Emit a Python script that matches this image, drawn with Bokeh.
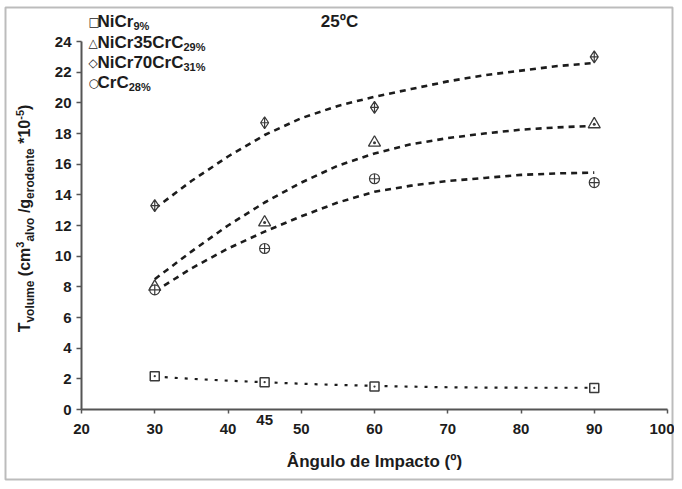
import math
from bokeh.plotting import figure
from bokeh.models import Range1d, FixedTicker, Label, BoxAnnotation
from bokeh.embed import file_html
from bokeh.resources import INLINE

# ---------------- data ----------------
angles = [30, 45, 60, 90]
nicr9 = [2.17, 1.78, 1.50, 1.41]
nicr35_crc29 = [8.0, 12.2, 17.4, 18.6]
nicr70_crc31 = [13.3, 18.7, 19.7, 23.0]
crc28 = [7.8, 10.5, 15.05, 14.8]

trend_x = [30, 35, 40, 45, 50, 55, 60, 65, 70, 75, 80, 85, 90]
trend_nicr9 = [2.15, 2.0, 1.88, 1.78, 1.68, 1.6, 1.54, 1.49, 1.45, 1.43, 1.42, 1.42, 1.42]
trend_nicr35 = [8.5, 10.3, 12.0, 13.5, 14.8, 15.9, 16.7, 17.3, 17.7, 18.0, 18.25, 18.4, 18.5]
trend_nicr70 = [13.1, 14.9, 16.5, 17.9, 19.0, 19.8, 20.4, 20.9, 21.4, 21.8, 22.1, 22.4, 22.6]
trend_crc28 = [7.7, 9.2, 10.5, 11.6, 12.6, 13.5, 14.2, 14.6, 14.9, 15.1, 15.3, 15.4, 15.45]

x_ticks = [20, 30, 40, 50, 60, 70, 80, 90, 100]
y_ticks = [0, 2, 4, 6, 8, 10, 12, 14, 16, 18, 20, 22, 24]
x_lo, x_hi = 20, 100
y_lo, y_hi = 0, 24
extra_x_label = 45

# ---------------- layout (pixels) ----------------
W, H = 674, 481
FL, FR, FT, FB = 81, 667, 41, 409          # plot area edges on the canvas
SX = (FR - FL) / (x_hi - x_lo)
SY = (FB - FT) / (y_hi - y_lo)
x_start = x_lo - FL / SX
x_end = x_hi + (W - FR) / SX
y_end = y_hi + FT / SY
y_start = y_lo - (H - FB) / SY


def dx(px):
    return x_start + px / SX


def dy(py):
    return y_end - py / SY


FONT = "Liberation Sans"
NARROW = "'Liberation Sans Narrow', 'Liberation Sans', sans-serif"
INK = "#1c1c1c"

p = figure(width=W, height=H, output_backend="svg", toolbar_location=None,
           x_range=Range1d(x_start, x_end), y_range=Range1d(y_start, y_end),
           min_border_left=0, min_border_right=0, min_border_top=0, min_border_bottom=0)
p.grid.visible = False
p.outline_line_color = None

for ax in (p.xaxis[0], p.yaxis[0]):
    ax.axis_line_color = "#555555"
    ax.axis_line_width = 2
    ax.major_tick_line_color = "#555555"
    ax.major_tick_line_width = 1.5
    ax.minor_tick_line_color = None
    ax.major_tick_in = 0
    ax.major_label_text_font_style = "bold"
    ax.major_label_text_color = INK

xa = p.xaxis[0]
xa.fixed_location = y_lo
xa.bounds = (x_lo, x_hi)
xa.ticker = FixedTicker(ticks=x_ticks)
xa.major_tick_out = 4
xa.major_label_standoff = 10
xa.major_label_text_font = NARROW
xa.major_label_text_font_size = "15px"
xa.axis_label = "Ângulo de Impacto (º)"
xa.axis_label_text_font = FONT
xa.axis_label_text_font_size = "17px"
xa.axis_label_text_font_style = "bold"
xa.axis_label_text_color = INK
xa.axis_label_standoff = 15

ya = p.yaxis[0]
ya.fixed_location = x_lo
ya.bounds = (y_lo, y_hi)
ya.ticker = FixedTicker(ticks=y_ticks)
ya.major_tick_out = 5
ya.major_label_standoff = 5
ya.major_label_text_font = NARROW
ya.major_label_text_font_size = "15px"

p.line(trend_x, trend_nicr9, line_color=INK, line_width=2.2, line_dash="3 7")
p.line(trend_x, trend_nicr35, line_color=INK, line_width=2.6, line_dash="6 5")
p.line(trend_x, trend_nicr70, line_color=INK, line_width=2.6, line_dash="6 5")
p.line(trend_x, trend_crc28, line_color=INK, line_width=2.6, line_dash="6 5")

MK = "#3a3a3a"
p.scatter(angles, nicr9, marker="square_dot", size=9, fill_color="white", line_color=MK, line_width=1.5)
p.scatter(angles, nicr35_crc29, marker="triangle_dot", size=12, fill_color="white", line_color=MK, line_width=1.3)
p.scatter(angles, nicr70_crc31, marker="diamond_cross", size=12, fill_color="white", line_color=MK, line_width=1.2)
p.scatter(angles, crc28, marker="circle_cross", size=10, fill_color="white", line_color=MK, line_width=1.2)


def add_text(px, py, text, size, align="left", baseline="middle", angle=0.0, font=FONT, bold=True):
    p.add_layout(Label(x=dx(px), y=dy(py), text=text, angle=angle, text_align=align,
                       text_baseline=baseline, text_font=font, text_font_size=f"{size}px",
                       text_font_style="bold" if bold else "normal", text_color=INK))


# extra "45" label under the axis
p.add_layout(Label(x=extra_x_label, y=y_lo, text=str(extra_x_label), y_offset=-10,
                   text_align="center", text_baseline="middle", text_font=NARROW,
                   text_font_size="15px", text_font_style="bold", text_color=INK))

# y axis label built from pieces (sub/superscripts); (text, kind, space before)
CW = {'T': 611, 'v': 556, 'o': 611, 'l': 278, 'u': 611, 'm': 889, 'e': 556, ' ': 278, '(': 333,
      'c': 556, '3': 556, 'a': 556, '/': 278, 'g': 611, 'r': 389, 'd': 611, 'n': 611, 't': 333,
      '*': 389, '1': 556, '0': 556, '-': 333, '5': 556, ')': 333, 'N': 722, 'i': 278, 'C': 722,
      '7': 556}
pieces = [("T", "main", False), ("volume", "sub", False), ("(cm", "main", True), ("3", "sup", False),
          ("alvo", "sub", False), ("/g", "main", True), ("erodente", "sub", False),
          ("*10", "main", True), ("-5", "sup", False), (")", "main", False)]
size_of = {"main": 16, "sub": 12, "sup": 11}
xmid = {"main": 24, "sub": 29, "sup": 19}
SPACE = CW[' '] / 1000 * size_of["main"]
widths = [sum(CW[c] for c in t) / 1000 * size_of[k] + (SPACE if sp else 0) for t, k, sp in pieces]
ycur = 218 + sum(widths) / 2
for (t, k, sp), w in zip(pieces, widths):
    add_text(xmid[k], ycur - (SPACE if sp else 0), t, size_of[k], angle=math.pi / 2)
    ycur -= w

# legend
legend_rows = [("□", "NiCr", "9%"), ("△", "NiCr35CrC", "29%"), ("◇", "NiCr70CrC", "31%"), ("○", "CrC", "28%")]
centers = [21, 42, 62, 82]
for (sym, main, sub), c in zip(legend_rows, centers):
    add_text(88, c, sym, 12, font="DejaVu Sans", bold=False)
    add_text(97, c, main, 17)
    mw = sum(CW[ch] for ch in main) / 1000 * 17
    add_text(97 + mw, c + 4, sub, 11)

add_text(339, 21, "25ºC", 17, align="center")

# outer frame of the picture
p.add_layout(BoxAnnotation(left=dx(5), right=dx(672), top=dy(7), bottom=dy(479), fill_alpha=0,
                           line_color="#222222", line_width=2))

open("out.html", "w").write(file_html(p, INLINE))
